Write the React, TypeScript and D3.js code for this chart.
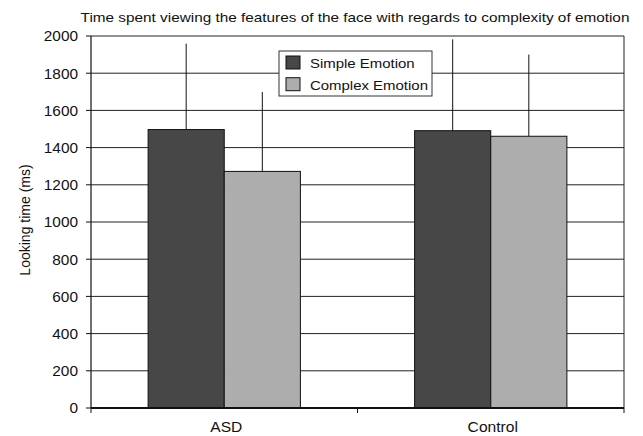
import React from "react";
import * as d3 from "d3";

const groups = ["ASD", "Control"];
const seriesNames = ["Simple Emotion", "Complex Emotion"];
const simpleMeans = [1497, 1491];
const complexMeans = [1272, 1461];
const simpleUpper = [1959, 1982];
const complexUpper = [1699, 1900];
const yTicks = [0, 200, 400, 600, 800, 1000, 1200, 1400, 1600, 1800, 2000];
const title = "Time spent viewing the features of the face with regards to complexity of emotion";
const yLabel = "Looking time (ms)";

const colors = ["#474747", "#acadac"];
const FONT = "'Liberation Sans', Arial, Helvetica, sans-serif";

type STProps = {
  x: number;
  y: number;
  sx?: number;
  size: number;
  anchor?: "start" | "middle" | "end";
  dy?: string;
  children: React.ReactNode;
};

// Text with a slight horizontal widening, as the typeface in this figure runs wide
function WideText({ x, y, sx = 1.1, size, anchor = "start", dy, children }: STProps) {
  return (
    <text
      transform={`translate(${x},${y}) scale(${sx},1)`}
      textAnchor={anchor}
      fontSize={size}
      dy={dy}
      fill="#111"
    >
      {children}
    </text>
  );
}

export default function App() {
  const W = 643;
  const H = 436;
  const m = { left: 91, right: 19, top: 36, bottom: 28 };
  const x0 = m.left;
  const x1 = W - m.right;
  const y0 = H - m.bottom;
  const y1 = m.top;

  const y = d3.scaleLinear().domain([0, 2000]).range([y0, y1]);
  const xg = d3.scaleBand().domain(groups).range([x0, x1]).paddingInner(0).paddingOuter(0);
  const bw = xg.bandwidth() / 3.5;

  const series = [
    { name: seriesNames[0], means: simpleMeans, upper: simpleUpper, color: colors[0] },
    { name: seriesNames[1], means: complexMeans, upper: complexUpper, color: colors[1] },
  ];

  const barX = (g: string, si: number) => (xg(g) as number) + xg.bandwidth() / 2 - bw + si * bw;

  return (
    <svg width={W} height={H} style={{ position: "absolute", left: 0, top: 0 }} fontFamily={FONT}>
      <rect x={0} y={0} width={W} height={H} fill="#fff" />
      <WideText x={355} y={22} sx={1.18} size={13} anchor="middle">
        {title}
      </WideText>
      {/* gridlines */}
      {yTicks.slice(1).map((t) => (
        <line key={t} x1={x0} x2={x1} y1={y(t)} y2={y(t)} stroke="#222" strokeWidth={1} />
      ))}
      {/* right border */}
      <line x1={x1} x2={x1} y1={y1} y2={y0} stroke="#222" strokeWidth={1} />
      {/* y axis */}
      <line x1={x0} x2={x0} y1={y1} y2={y0} stroke="#111" strokeWidth={1.2} />
      {yTicks.map((t) => (
        <g key={t}>
          <line x1={x0 - 5} x2={x0} y1={y(t)} y2={y(t)} stroke="#111" />
          <WideText x={x0 - 13} y={y(t) + 5.3} sx={1.1} size={14} anchor="end">
            {t}
          </WideText>
        </g>
      ))}
      <text
        transform={`translate(30, ${(y0 + y1) / 2 - 2}) rotate(-90)`}
        textAnchor="middle"
        fontSize={14}
        fill="#111"
      >
        {yLabel}
      </text>
      {/* bars and error bars */}
      {series.map((s, si) =>
        groups.map((g, gi) => {
          const bx = barX(g, si);
          return (
            <g key={`${si}-${gi}`}>
              <line
                x1={bx + bw / 2}
                x2={bx + bw / 2}
                y1={y(s.means[gi])}
                y2={y(s.upper[gi])}
                stroke="#111"
                strokeWidth={1}
              />
              <rect
                x={bx}
                y={y(s.means[gi])}
                width={bw}
                height={y0 - y(s.means[gi])}
                fill={s.color}
                stroke="#111"
                strokeWidth={1}
              />
            </g>
          );
        })
      )}
      {/* x axis */}
      <line x1={x0} x2={x1} y1={y0} y2={y0} stroke="#111" strokeWidth={2} />
      {[x0, ...groups.map((g) => (xg(g) as number) + xg.bandwidth())].map((xv, i) => (
        <line key={i} x1={xv} x2={xv} y1={y0} y2={y0 + 5} stroke="#111" />
      ))}
      {groups.map((g) => (
        <WideText
          key={g}
          x={(xg(g) as number) + xg.bandwidth() / 2 + 2}
          y={y0 + 24}
          sx={1.04}
          size={15}
          anchor="middle"
        >
          {g}
        </WideText>
      ))}
      {/* legend */}
      <g transform="translate(279, 51)">
        <rect x={0} y={0} width={153} height={45} fill="#fff" stroke="#333" strokeWidth={1} />
        {series.map((s, i) => (
          <g key={s.name} transform={`translate(7, ${5 + i * 21.7})`}>
            <rect x={0} y={0} width={14} height={13} fill={s.color} stroke="#111" strokeWidth={1} />
            <WideText x={24} y={12} sx={1.1} size={13.6}>
              {s.name}
            </WideText>
          </g>
        ))}
      </g>
    </svg>
  );
}
